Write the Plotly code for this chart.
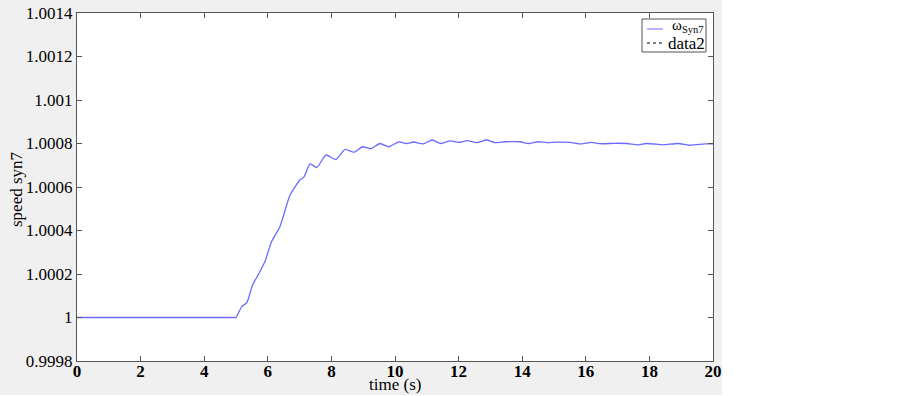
import plotly.graph_objects as go

# ---- data ----
time_s = [0, 2, 4.97, 5.0, 5.18, 5.34, 5.52, 5.75, 5.91, 6.12, 6.38, 6.70, 7.01, 7.14,
          7.33, 7.54, 7.83, 8.14, 8.43, 8.71, 8.98, 9.23, 9.53, 9.80, 10.12, 10.37,
          10.58, 10.88, 11.17, 11.44, 11.73, 12.0, 12.27, 12.57, 12.88, 13.14, 13.46,
          13.93, 14.19, 14.5, 14.77, 15.1, 15.5, 15.87, 16.18, 16.45, 16.9, 17.29,
          17.65, 17.9, 18.2, 18.44, 18.9, 19.28, 19.75, 20.0]
speed_syn7 = [1.0, 1.0, 1.0, 1.0, 1.00005, 1.000068, 1.000149, 1.00021, 1.000257,
              1.000349, 1.000417, 1.000563, 1.000632, 1.000647, 1.000706, 1.00069,
              1.000747, 1.000727, 1.000773, 1.00076, 1.000785, 1.000776, 1.0008,
              1.000785, 1.000807, 1.0008, 1.000807, 1.000798, 1.000816, 1.0008,
              1.000812, 1.000805, 1.000813, 1.000804, 1.000816, 1.000804, 1.000808,
              1.000808, 1.0008, 1.000808, 1.000804, 1.000806, 1.000805, 1.000798,
              1.000805, 1.000799, 1.000801, 1.0008, 1.000794, 1.0008, 1.000797,
              1.000794, 1.0008, 1.000792, 1.000798, 1.000798]
data2_t = []
data2_v = []

x_ticks = [0, 2, 4, 6, 8, 10, 12, 14, 16, 18, 20]
y_ticks = [0.9998, 1.0, 1.0002, 1.0004, 1.0006, 1.0008, 1.001, 1.0012, 1.0014]
y_tick_text = ["0.9998", "1", "1.0002", "1.0004", "1.0006", "1.0008", "1.001", "1.0012", "1.0014"]

W, H = 903, 396
L, R, T, B = 77, 713, 13, 361
pw, ph = R - L, B - T

def px(x):
    return (x - L) / pw

def py(y):
    return (B - y) / ph

FONT = "Liberation Serif"

fig = go.Figure()
fig.add_trace(go.Scatter(x=time_s, y=speed_syn7, mode="lines", name="ω<sub>Syn7</sub>",
                         line=dict(color="#6b6bff", width=1.3, shape="spline", smoothing=0.6),
                         showlegend=False, hoverinfo="skip"))
fig.add_trace(go.Scatter(x=data2_t, y=data2_v, mode="lines", name="data2",
                         line=dict(color="black", width=1, dash="dot"), showlegend=False))

axis_common = dict(showgrid=False, zeroline=False, showline=True, linecolor="#555555",
                   linewidth=1, mirror="ticks", ticks="inside", ticklen=5,
                   tickcolor="#555555", automargin=False)

fig.update_xaxes(range=[0, 20], tickvals=x_ticks, ticktext=[f"<b>{v}</b>" for v in x_ticks],
                 tickfont=dict(family=FONT, size=17, color="black"),
                 ticklabelstandoff=-5, **axis_common)
fig.update_yaxes(range=[0.9998, 1.0014], tickvals=y_ticks, ticktext=y_tick_text,
                 tickfont=dict(family=FONT, size=17, color="black"), **axis_common)

shapes = [
    # white area right of / below the gray figure
    dict(type="rect", xref="paper", yref="paper", x0=px(722), x1=px(W + 5), y0=py(H + 5), y1=py(-5),
         fillcolor="white", line=dict(width=0), layer="below"),
    dict(type="rect", xref="paper", yref="paper", x0=px(-5), x1=px(W + 5), y0=py(H + 5), y1=py(395),
         fillcolor="white", line=dict(width=0), layer="below"),
    # legend box
    dict(type="rect", xref="paper", yref="paper", x0=px(642), x1=px(706), y0=py(52), y1=py(19),
         fillcolor="white", line=dict(color="#555555", width=1)),
    dict(type="line", xref="paper", yref="paper", x0=px(647), x1=px(663), y0=py(29), y1=py(29),
         line=dict(color="#6b6bff", width=1)),
    dict(type="line", xref="paper", yref="paper", x0=px(647), x1=px(663), y0=py(43), y1=py(43),
         line=dict(color="black", width=1, dash="dot")),
]

annotations = [
    dict(text="ω<sub>Syn7</sub>", xref="paper", yref="paper", x=px(670), y=py(26),
         xanchor="left", yanchor="middle", showarrow=False,
         font=dict(family=FONT, size=15, color="black")),
    dict(text="data2", xref="paper", yref="paper", x=px(666), y=py(44),
         xanchor="left", yanchor="middle", showarrow=False,
         font=dict(family=FONT, size=17, color="black")),
    dict(text="time (s)", xref="paper", yref="paper", x=0.5, y=py(385),
         xanchor="center", yanchor="middle", showarrow=False,
         font=dict(family=FONT, size=17, color="black")),
    dict(text="speed syn7", xref="paper", yref="paper", x=px(16), y=py(189),
         xanchor="center", yanchor="middle", textangle=-90, showarrow=False,
         font=dict(family=FONT, size=17, color="black")),
]

fig.update_layout(width=W, height=H, margin=dict(l=L, r=W - R, t=T, b=H - B),
                  paper_bgcolor="#f0f0f0", plot_bgcolor="white",
                  shapes=shapes, annotations=annotations, showlegend=False)

fig.write_html("out.html", config={"displayModeBar": False},
               post_script="document.body.style.margin='0';")
